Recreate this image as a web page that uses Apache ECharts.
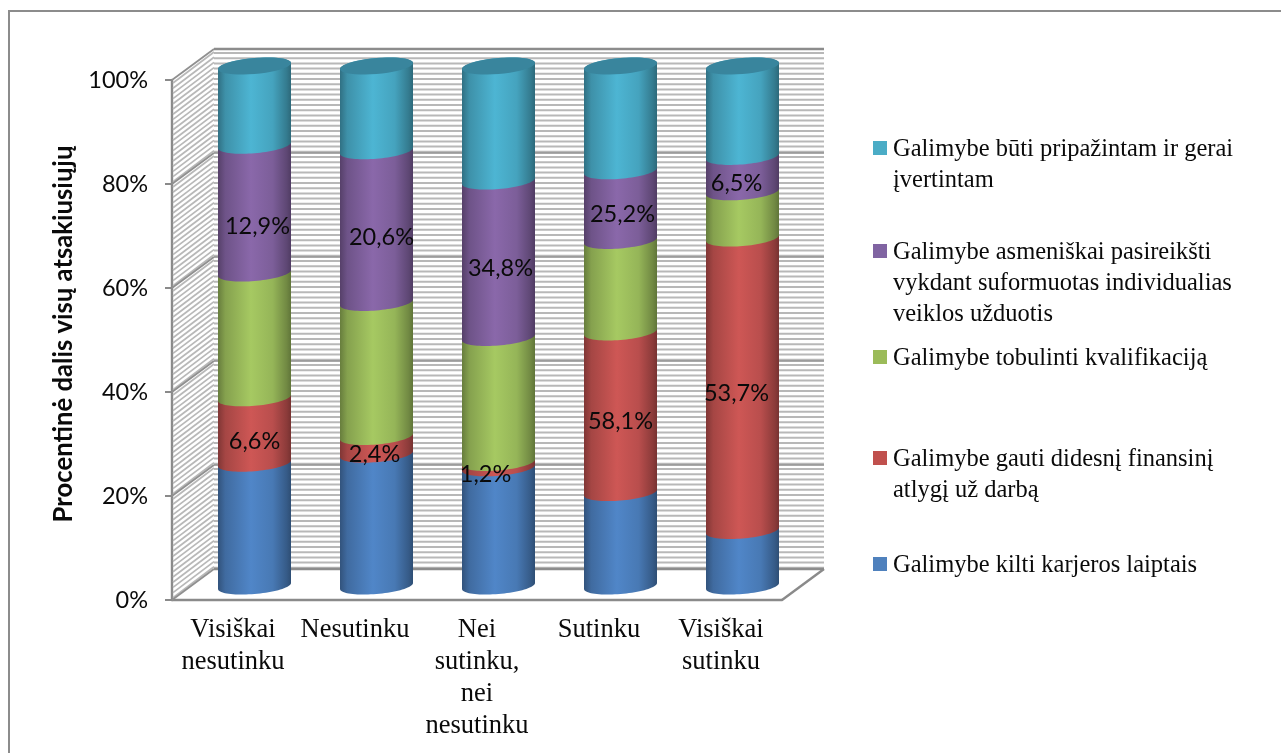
<!DOCTYPE html>
<html>
<head>
<meta charset="utf-8">
<style>html,body{margin:0;padding:0;background:#fff}#chart{width:1281px;height:753px}</style>
<script src="https://cdn.jsdelivr.net/npm/echarts@6/dist/echarts.min.js"></script>
</head>
<body>
<div id="chart"></div>
<script>
// Survey answers per agreement level; stacks are scaled to 100% of each column.
const categories = ['Visiškai\nnesutinku', 'Nesutinku', 'Nei\nsutinku,\nnei\nnesutinku', 'Sutinku', 'Visiškai\nsutinku'];
const careerValues = [12.4, 17.9, 26.3, 33.8, 10.2];
const payValues = [6.6, 2.4, 1.2, 58.1, 53.7];
const trainingValues = [12.6, 18.2, 27.8, 33.1, 8.5];
const tasksValues = [12.9, 20.6, 34.8, 25.2, 6.5];
const recognitionValues = [8.0, 11.5, 25.6, 37.9, 16.6];
const careerName = 'Galimybe kilti karjeros laiptais';
const payName = 'Galimybe gauti didesnį finansinį atlygį už darbą';
const trainingName = 'Galimybe tobulinti kvalifikaciją';
const tasksName = 'Galimybe asmeniškai pasireikšti vykdant suformuotas individualias veiklos užduotis';
const recognitionName = 'Galimybe būti pripažintam ir gerai įvertintam';
const yTicks = [0, 20, 40, 60, 80, 100];

// Cylinder and wall appearance
const DEPTH_X = 42, DEPTH_Y = 31;      // offset of the back wall from the front axes
const BAR_DX = 21.5, BAR_DY = 14;      // bar axis sits halfway into the depth
const RX = 36.5, RY = 8, TILT = 3;     // ellipse of a cylinder section
const SERIF = '"Liberation Serif", serif';
const SANS = 'Lato, "Open Sans", sans-serif';

const stacks = [
  {name: careerName, values: careerValues, swatch: '#4F81BD', mid: '#5086C8', labelled: false},
  {name: payName, values: payValues, swatch: '#C0504D', mid: '#CE5755', labelled: true,
    shift: [[0, 2], [-2, 0], [-13, 0], [0, 0], [-6, 0]]},
  {name: trainingName, values: trainingValues, swatch: '#9BBB59', mid: '#A6C962', labelled: false},
  {name: tasksName, values: tasksValues, swatch: '#8064A2', mid: '#8A68AA', labelled: true,
    shift: [[3, 8], [5, 2], [2, 0], [2, 0], [-6, 0]]},
  {name: recognitionName, values: recognitionValues, swatch: '#4BACC6', mid: '#4DB5D3', labelled: false}
];

const columnTotals = categories.map((_, i) => stacks.reduce((s, k) => s + k.values[i], 0));

function shade(hex, k) {
  const n = parseInt(hex.slice(1), 16);
  const c = [n >> 16, (n >> 8) & 255, n & 255].map(v => Math.round(v * k));
  return 'rgb(' + c.join(',') + ')';
}

function cylinderFill(mid) {
  return {
    type: 'linear', x: 0, y: 0, x2: 1, y2: 0,
    colorStops: [
      {offset: 0, color: shade(mid, 0.62)},
      {offset: 0.1, color: shade(mid, 0.8)},
      {offset: 0.45, color: shade(mid, 1)},
      {offset: 0.75, color: shade(mid, 0.9)},
      {offset: 0.94, color: shade(mid, 0.68)},
      {offset: 1, color: shade(mid, 0.58)}
    ]
  };
}

// Points along one half of a section ellipse, from angle a to angle b.
function arc(cx, cy, a, b) {
  const pts = [];
  for (let i = 0; i <= 40; i++) {
    const t = a + (b - a) * i / 40;
    pts.push([cx + RX * Math.cos(t), cy - TILT * Math.cos(t) - RY * Math.sin(t)]);
  }
  return pts;
}

function renderWall(params, api) {
  if (params.dataIndex !== 0) return null;
  const sys = params.coordSys;
  const x0 = sys.x, x1 = sys.x + sys.width;
  const yTop = api.coord([0, 100])[1], yBot = api.coord([0, 0])[1];
  const children = [];
  const line = (xa, ya, xb, yb, color, w, z2) => children.push({
    type: 'line', silent: true, z2: z2,
    shape: {x1: xa, y1: ya, x2: xb, y2: yb},
    style: {stroke: color, lineWidth: w}
  });
  // Hatching on the back wall and on the side wall
  for (let y = yTop - DEPTH_Y + 4; y < yBot - DEPTH_Y - 1; y += 5.2) {
    line(x0 + DEPTH_X, y, x1 + DEPTH_X, y, '#b8b8b8', 2, 1);
  }
  for (let y = yTop + 3; y < yBot - 1; y += 5.2) {
    line(x0 + 1, y, x0 + DEPTH_X, y - DEPTH_Y, '#b8b8b8', 1.7, 1);
  }
  // Gridlines folded around the wall corner
  yTicks.forEach(v => {
    const y = api.coord([0, v])[1];
    const w = (v === 0 || v === 100) ? 2.4 : 1.3;
    line(x0, y, x0 + DEPTH_X, y - DEPTH_Y, '#909090', 1.8, 2);
    line(x0 + DEPTH_X, y - DEPTH_Y, x1 + DEPTH_X, y - DEPTH_Y, '#8c8c8c', w, 2);
  });
  // Floor edge on the right
  line(x1, yBot, x1 + DEPTH_X, yBot - DEPTH_Y, '#8a8a8a', 2.4, 2);
  return {type: 'group', children};
}

function makeRenderer(stack, order, isTop) {
  return function (params, api) {
    const i = api.value(0);
    const low = api.coord([i, api.value(1)]);
    const high = api.coord([i, api.value(2)]);
    const cx = low[0] + BAR_DX;
    const yLow = low[1] - BAR_DY, yHigh = high[1] - BAR_DY;
    const body = arc(cx, yLow, Math.PI, 2 * Math.PI).concat(arc(cx, yHigh, 0, Math.PI));
    const children = [{
      type: 'polygon', z2: 10 + order,
      shape: {points: body},
      style: {fill: cylinderFill(stack.mid)}
    }];
    if (isTop) {
      children.push({
        type: 'polygon', z2: 20,
        shape: {points: arc(cx, yHigh, 0, 2 * Math.PI)},
        style: {fill: '#39859D'}
      });
    }
    if (stack.labelled) {
      const s = stack.shift[i];
      children.push({
        type: 'text', z2: 30,
        style: {
          text: api.value(3).toFixed(1).replace('.', ',') + '%',
          x: cx + s[0], y: (yLow + yHigh) / 2 + 9 + s[1],
          align: 'center', verticalAlign: 'middle',
          font: '23.5px ' + SANS, fill: '#0a0a0a'
        }
      });
    }
    return {type: 'group', children};
  };
}

// Each stack becomes one custom series holding [column, from, to, raw value].
const running = categories.map(() => 0);
const cylinderSeries = stacks.map((stack, order) => ({
  type: 'custom',
  name: stack.name,
  coordinateSystem: 'cartesian2d',
  itemStyle: {color: stack.swatch},
  encode: {x: 0, y: [1, 2]},
  renderItem: makeRenderer(stack, order, order === stacks.length - 1),
  data: stack.values.map((v, i) => {
    const from = running[i];
    running[i] += v / columnTotals[i] * 100;
    return [i, from, running[i], v];
  })
}));

// Legend rows: text broken into lines and the height of the first line.
const legendRows = [
  {name: recognitionName, lines: ['Galimybe būti pripažintam ir gerai', 'įvertintam'], y: 149, color: '#4BACC6'},
  {name: tasksName, lines: ['Galimybe asmeniškai pasireikšti', 'vykdant suformuotas individualias', 'veiklos užduotis'], y: 252, color: '#8064A2'},
  {name: trainingName, lines: ['Galimybe tobulinti kvalifikaciją'], y: 358, color: '#9BBB59'},
  {name: payName, lines: ['Galimybe gauti didesnį finansinį', 'atlygį už darbą'], y: 459, color: '#C0504D'},
  {name: careerName, lines: ['Galimybe kilti karjeros laiptais'], y: 565, color: '#4F81BD'}
];
const LEGEND_LH = 31;
const LEGEND_DROP = 4;

const legends = legendRows.map(row => {
  // Leading blank lines keep the swatch level with the first line of wrapped text.
  const blanks = row.lines.slice(1).map(() => '{t| }');
  const text = blanks.concat(row.lines.map(l => '{t|' + l + '}')).join('\n');
  const total = (row.lines.length * 2 - 1) * LEGEND_LH;
  return {
    left: 873, top: row.y - total / 2,
    orient: 'vertical', padding: 0, itemGap: 0,
    itemWidth: 14, itemHeight: 14,
    selectedMode: false,
    data: [{name: row.name, icon: 'rect', itemStyle: {color: row.color}}],
    formatter: () => text,
    textStyle: {
      rich: {
        t: {
          fontFamily: SERIF, fontSize: 24.5, color: '#0a0a0a',
          lineHeight: LEGEND_LH, padding: [LEGEND_DROP, 0, 0, 1]
        }
      }
    }
  };
});

const option = {
  animation: false,
  backgroundColor: '#fff',
  graphic: [{
    type: 'rect', silent: true, z: -10,
    shape: {x: 9, y: 11, width: 1400, height: 900},
    style: {fill: 'none', stroke: '#8c8c8c', lineWidth: 2}
  }],
  legend: legends,
  grid: {left: 172, top: 80, width: 610, height: 520, containLabel: false},
  xAxis: {
    type: 'category',
    data: categories,
    axisLine: {lineStyle: {color: '#8a8a8a', width: 2.4}},
    axisTick: {show: false},
    axisLabel: {interval: 0, margin: 14, fontFamily: SERIF, fontSize: 26.5, lineHeight: 32, color: '#0a0a0a'}
  },
  yAxis: {
    type: 'value', min: 0, max: 100, interval: 20,
    name: 'Procentinė dalis visų atsakiusiųjų',
    nameLocation: 'middle', nameRotate: 90, nameGap: 95,
    nameTextStyle: {fontFamily: SANS, fontWeight: 'bold', fontSize: 25.7, color: '#0a0a0a', padding: [0, 0, 0, 12]},
    axisLine: {show: true, lineStyle: {color: '#8a8a8a', width: 2.4}},
    axisTick: {show: true, length: 7, lineStyle: {color: '#8a8a8a', width: 2}},
    splitLine: {show: false},
    axisLabel: {margin: 24, fontFamily: SANS, fontSize: 23.5, color: '#0a0a0a', formatter: '{value}%'}
  },
  series: [{
    type: 'custom', name: 'siena', silent: true, coordinateSystem: 'cartesian2d',
    encode: {x: 0, y: 1}, renderItem: renderWall, data: [[0, 0]]
  }].concat(cylinderSeries)
};

echarts.init(document.getElementById('chart'), null, {renderer: 'canvas'}).setOption(option);
</script>
</body>
</html>
